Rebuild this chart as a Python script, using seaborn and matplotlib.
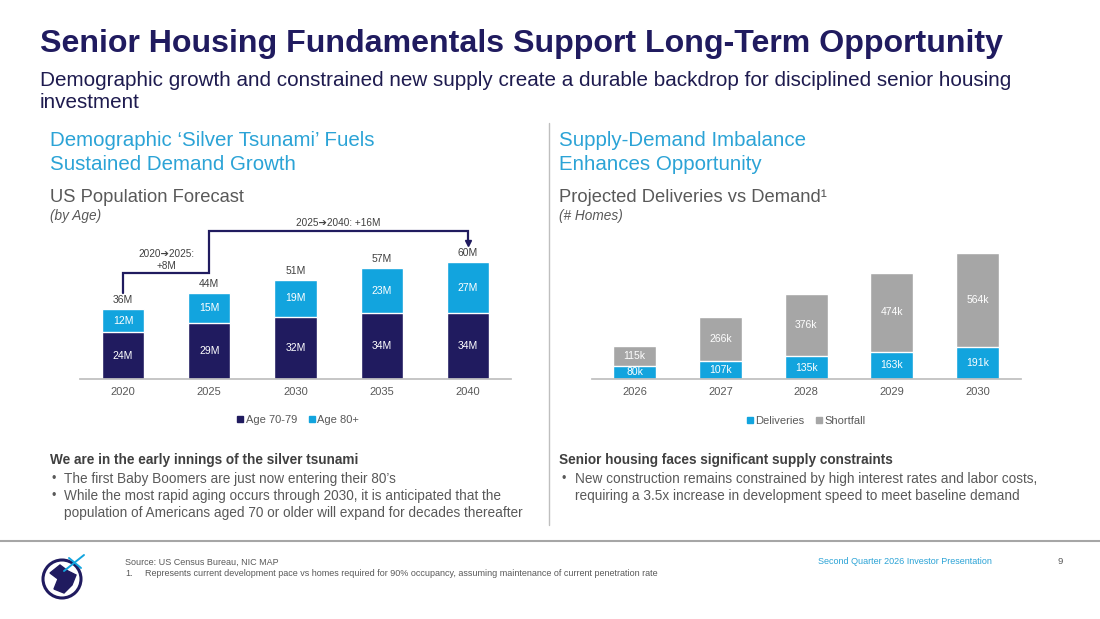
import matplotlib
matplotlib.use("Agg")
import matplotlib.pyplot as plt
import seaborn as sns
import pandas as pd
from matplotlib.lines import Line2D
from matplotlib.patches import Circle, Polygon

# ---------------- data ----------------
years_pop = ["2020", "2025", "2030", "2035", "2040"]
age_70_79 = [24, 29, 32, 34, 34]
age_80_plus = [12, 15, 19, 23, 27]
pop_totals = [36, 44, 51, 57, 60]

years_supply = ["2026", "2027", "2028", "2029", "2030"]
deliveries = [80, 107, 135, 163, 191]
shortfall = [115, 266, 376, 474, 564]

pop_legend = ["Age 70-79", "Age 80+"]
supply_legend = ["Deliveries", "Shortfall"]

# ---------------- style ----------------
NAVY = "#201B5F"
LIGHT = "#12A4DE"
GREY = "#A6A6A6"
CYAN = "#2BA3D6"
TXT = "#595959"
DARK = "#404040"

sns.set_theme(style="white")
plt.rcParams['font.family'] = ['Liberation Sans', 'DejaVu Sans']
BODY = ['Liberation Sans', 'DejaVu Sans']

W, H = 1100, 619
fig = plt.figure(figsize=(11, 6.19), dpi=100)
fig.patch.set_facecolor("white")


def fx(x):
    return x / W


def fy(y):
    return 1 - y / H


def T(x, y, s, **kw):
    kw.setdefault('va', 'center')
    kw.setdefault('ha', 'left')
    fig.text(fx(x), fy(y), s, **kw)


# ---------------- titles ----------------
T(40, 44, "Senior Housing Fundamentals Support Long-Term Opportunity",
  fontsize=23.1, fontweight='bold', color=NAVY)
T(40, 80, "Demographic growth and constrained new supply create a durable backdrop for disciplined senior housing",
  fontsize=14.85, color="#1E1B4F")
T(40, 102, "investment", fontsize=14.85, color="#1E1B4F")

T(50, 141, "Demographic \u2018Silver Tsunami\u2019 Fuels", fontsize=14.8, color=CYAN)
T(50, 164, "Sustained Demand Growth", fontsize=14.8, color=CYAN)
T(50, 198, "US Population Forecast", fontsize=13.2, color=TXT)
T(50, 216, "(by Age)", fontsize=9.8, color=TXT, style='italic')

T(559, 141, "Supply-Demand Imbalance", fontsize=14.8, color=CYAN)
T(559, 164, "Enhances Opportunity", fontsize=14.8, color=CYAN)
T(559, 198, "Projected Deliveries vs Demand\u00b9", fontsize=13.2, color=TXT)
T(559, 216, "(# Homes)", fontsize=9.8, color=TXT, style='italic')

# ---------------- left chart ----------------
ax1 = fig.add_axes([fx(80), fy(379), (511 - 80) / W, (379 - 200) / H])
df_pop = pd.DataFrame({"year": years_pop, "a7079": age_70_79,
                       "a80": age_80_plus, "total": pop_totals})
sns.barplot(data=df_pop, x="year", y="total", color=LIGHT, width=0.49,
            saturation=1, errorbar=None, ax=ax1)
sns.barplot(data=df_pop, x="year", y="a7079", color=NAVY, width=0.49,
            saturation=1, errorbar=None, ax=ax1)
ax1.set_xlim(-0.5, 4.5)
ax1.set_ylim(0, 92.1)
for i in range(len(years_pop)):
    ax1.text(i, age_70_79[i] / 2, f"{age_70_79[i]}M", ha='center', va='center',
             color='white', fontsize=7.5)
    ax1.text(i, age_70_79[i] + (pop_totals[i] - age_70_79[i]) / 2, f"{age_80_plus[i]}M",
             ha='center', va='center', color='white', fontsize=7.5)
    ax1.annotate(f"{pop_totals[i]}M", (i, pop_totals[i]), xytext=(0, 3),
                 textcoords='offset points', ha='center', va='bottom',
                 color=DARK, fontsize=7.5)

# growth bracket annotation
y_start = pop_totals[0] + 8.5
y_lvl1 = pop_totals[1] + 10.4
y_lvl2 = pop_totals[4] + 16.3
y_tip = pop_totals[4] + 8.5
ax1.plot([0, 0, 1, 1, 4, 4], [y_start, y_lvl1, y_lvl1, y_lvl2, y_lvl2, y_tip + 2],
         color=NAVY, lw=1.6, clip_on=False, solid_joinstyle='miter')
ax1.plot([4], [y_tip + 1.5], marker='v', color=NAVY, markersize=5, clip_on=False)
ax1.text(0.5, y_lvl1 + 6.8, "2020\u27942025:\n+8M", ha='center', va='center',
         fontsize=7.2, color=DARK, linespacing=1.2, family=BODY)
ax1.text(2.5, y_lvl2 + 1.2, "2025\u27942040: +16M", ha='center', va='bottom',
         fontsize=7.2, color=DARK, family=BODY)

sns.despine(ax=ax1, left=True)
ax1.spines['bottom'].set_color('#BFBFBF')
ax1.set_yticks([])
ax1.set_xlabel("")
ax1.set_ylabel("")
ax1.tick_params(axis='x', length=0, labelsize=8, colors=TXT, pad=6)

h1 = [Line2D([], [], marker='s', linestyle='', color=NAVY, markersize=5),
      Line2D([], [], marker='s', linestyle='', color=LIGHT, markersize=5)]
ax1.legend(h1, pop_legend, loc='center', bbox_to_anchor=(fx(298), fy(420)),
           bbox_transform=fig.transFigure, ncol=2, frameon=False, fontsize=8,
           handlelength=0.6, handletextpad=0.2, columnspacing=1.0,
           labelcolor=TXT)

# ---------------- right chart ----------------
ax2 = fig.add_axes([fx(591.7), fy(379), (1020.5 - 591.7) / W, (379 - 200) / H])
df_sup = pd.DataFrame({"year": years_supply, "deliveries": deliveries,
                       "shortfall": shortfall})
df_sup["total"] = df_sup["deliveries"] + df_sup["shortfall"]
sns.barplot(data=df_sup, x="year", y="total", color=GREY, width=0.5,
            saturation=1, errorbar=None, ax=ax2)
sns.barplot(data=df_sup, x="year", y="deliveries", color=LIGHT, width=0.5,
            saturation=1, errorbar=None, ax=ax2)
ax2.set_xlim(-0.5, 4.5)
ax2.set_ylim(0, 1072)
for i in range(len(years_supply)):
    ax2.text(i, deliveries[i] / 2, f"{deliveries[i]}k", ha='center', va='center',
             color='white', fontsize=7.5)
    ax2.text(i, deliveries[i] + shortfall[i] / 2, f"{shortfall[i]}k", ha='center',
             va='center', color='white', fontsize=7.5)
sns.despine(ax=ax2, left=True)
ax2.spines['bottom'].set_color('#BFBFBF')
ax2.set_yticks([])
ax2.set_xlabel("")
ax2.set_ylabel("")
ax2.tick_params(axis='x', length=0, labelsize=8, colors=TXT, pad=6)

h2 = [Line2D([], [], marker='s', linestyle='', color=LIGHT, markersize=5),
      Line2D([], [], marker='s', linestyle='', color=GREY, markersize=5)]
ax2.legend(h2, supply_legend, loc='center', bbox_to_anchor=(fx(806), fy(421)),
           bbox_transform=fig.transFigure, ncol=2, frameon=False, fontsize=8,
           handlelength=0.6, handletextpad=0.2, columnspacing=1.0,
           labelcolor=TXT)

# ---------------- commentary ----------------
BS = 9.85
T(50, 460, "We are in the early innings of the silver tsunami", fontsize=BS,
  fontweight='bold', color=DARK, family=BODY)
T(51, 479, "\u2022", fontsize=9, color=TXT)
T(64, 479, "The first Baby Boomers are just now entering their 80\u2019s", fontsize=BS,
  color=TXT, family=BODY)
T(51, 496, "\u2022", fontsize=9, color=TXT)
T(64, 496, "While the most rapid aging occurs through 2030, it is anticipated that the",
  fontsize=BS, color=TXT, family=BODY)
T(64, 513, "population of Americans aged 70 or older will expand for decades thereafter",
  fontsize=BS, color=TXT, family=BODY)

T(559, 460, "Senior housing faces significant supply constraints", fontsize=BS,
  fontweight='bold', color=DARK, family=BODY)
T(562, 479, "\u2022", fontsize=9, color=TXT)
T(575, 479, "New construction remains constrained by high interest rates and labor costs,",
  fontsize=BS, color=TXT, family=BODY)
T(575, 496, "requiring a 3.5x increase in development speed to meet baseline demand",
  fontsize=BS, color=TXT, family=BODY)

# ---------------- separators ----------------
fig.add_artist(Line2D([fx(549), fx(549)], [fy(123), fy(525)], color='#BFBFBF', lw=1))
fig.add_artist(Line2D([0, 1], [fy(541), fy(541)], color='#A6A6A6', lw=1.5))

# ---------------- footer ----------------
T(125, 562, "Source: US Census Bureau, NIC MAP", fontsize=6.5, color=TXT)
T(125, 573, "1.", fontsize=6.5, color=TXT)
T(145, 573, "Represents current development pace vs homes required for 90% occupancy, "
  "assuming maintenance of current penetration rate", fontsize=6.5, color=TXT)
T(818, 562, "Second Quarter 2026 Investor Presentation", fontsize=6.5, color=CYAN)
T(1057, 562, "9", fontsize=6.8, color=TXT)

# ---------------- logo ----------------
axl = fig.add_axes([fx(38), fy(603), 50 / W, 52 / H])
axl.set_xlim(-1.2, 1.3)
axl.set_ylim(-1.3, 1.3)
axl.set_aspect('equal')
axl.axis('off')
axl.add_patch(Circle((0, -0.1), 0.95, fill=False, ec=NAVY, lw=2.2))
axl.add_patch(Polygon([(-0.6, 0.2), (-0.1, 0.6), (0.3, 0.3), (0.7, 0.1),
                       (0.5, -0.4), (0.1, -0.8), (-0.4, -0.6), (-0.2, -0.1)],
                      closed=True, fc=NAVY, ec=NAVY))
axl.plot([0.1, 1.1], [0.3, 1.1], color=LIGHT, lw=1.4)
axl.plot([0.35, 0.95], [0.95, 0.45], color=LIGHT, lw=1.4)

fig.savefig("out.png", dpi=100, facecolor="white")
